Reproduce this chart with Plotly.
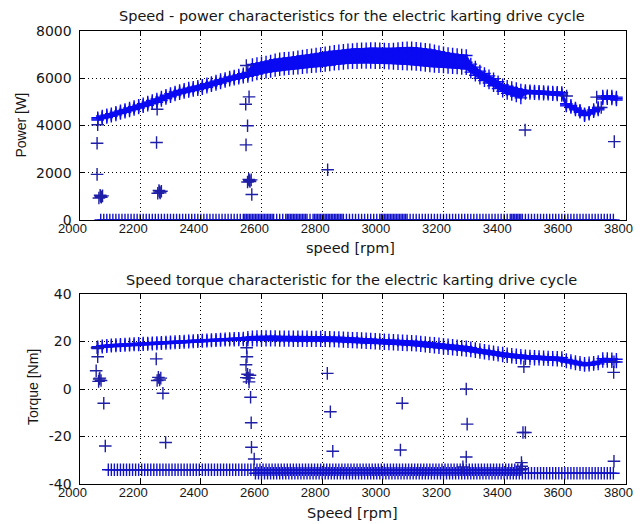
import plotly.graph_objects as go

# ---------------- data ----------------
band_speed = [
    2060, 2075, 2090, 2105, 2120, 2135, 2150, 2165, 2180, 2195,
    2210, 2225, 2240, 2255, 2270, 2285, 2300, 2315, 2330, 2345,
    2360, 2375, 2390, 2405, 2420, 2435, 2450, 2465, 2480, 2495,
    2510, 2525, 2540, 2555, 2570, 2585, 2600, 2615, 2630, 2645,
    2660, 2675, 2690, 2705, 2720, 2735, 2750, 2765, 2780, 2795,
    2810, 2825, 2840, 2855, 2870, 2885, 2900, 2915, 2930, 2945,
    2960, 2975, 2990, 3005, 3020, 3035, 3050, 3065, 3080, 3095,
    3110, 3125, 3140, 3155, 3170, 3185, 3200, 3215, 3230, 3245,
    3260, 3275, 3290, 3305, 3320, 3335, 3350, 3365, 3380, 3395,
    3410, 3425, 3440, 3455, 3470, 3485, 3500, 3515, 3530, 3545,
    3560, 3575, 3590, 3605, 3620, 3635, 3650, 3665, 3680, 3695,
    3710, 3725, 3740, 3755, 3770,
]

power_low = [
    4230, 4290, 4340, 4390, 4450, 4510, 4560, 4620, 4680, 4740,
    4800, 4860, 4920, 4980, 5060, 5140, 5220, 5290, 5350, 5400,
    5440, 5480, 5520, 5560, 5620, 5680, 5740, 5800, 5860, 5920,
    5960, 6000, 6040, 6080, 6130, 6180, 6230, 6260, 6290, 6330,
    6360, 6380, 6400, 6410, 6430, 6450, 6470, 6490, 6500, 6520,
    6540, 6560, 6590, 6610, 6630, 6650, 6660, 6660, 6670, 6670,
    6670, 6660, 6660, 6650, 6640, 6630, 6620, 6610, 6600, 6590,
    6580, 6560, 6540, 6520, 6500, 6490, 6480, 6460, 6450, 6440,
    6420, 6400, 6260, 6130, 6000, 5900, 5800, 5680, 5560, 5450,
    5360, 5310, 5250, 5170, 5360, 5360, 5350, 5340, 5330, 5320,
    5300, 5290, 5270, 4830, 4760, 4660, 4560, 4420, 4480, 4580,
    4660, 5120, 5130, 5120, 5080,
]
power_mid = [
    4280, 4345, 4395, 4445, 4505, 4565, 4620, 4680, 4740, 4800,
    4860, 4925, 4990, 5050, 5130, 5210, 5285, 5355, 5415, 5465,
    5510, 5550, 5590, 5630, 5690, 5750, 5810, 5870, 5925, 5985,
    6025, 6070, 6115, 6165, 6355, 6400, 6440, 6475, 6510, 6555,
    6590, 6610, 6630, 6645, 6670, 6695, 6720, 6740, 6760, 6785,
    6810, 6835, 6865, 6885, 6905, 6925, 6940, 6950, 6960, 6960,
    6965, 6960, 6955, 6945, 6935, 6935, 6940, 6945, 6945, 6940,
    6925, 6905, 6885, 6860, 6830, 6805, 6780, 6755, 6735, 6720,
    6700, 6680, 6430, 6300, 6150, 6050, 5950, 5830, 5705, 5585,
    5510, 5460, 5405, 5335, 5420, 5415, 5405, 5395, 5385, 5375,
    5360, 5350, 5335, 4875, 4805, 4700, 4600, 4460, 4520, 4625,
    4710, 5185, 5195, 5185, 5140,
]
power_high = [
    4330, 4400, 4450, 4500, 4560, 4620, 4680, 4740, 4800, 4860,
    4920, 4990, 5060, 5120, 5200, 5280, 5350, 5420, 5480, 5530,
    5580, 5620, 5660, 5700, 5760, 5820, 5880, 5940, 5990, 6050,
    6090, 6140, 6190, 6250, 6580, 6620, 6650, 6690, 6730, 6780,
    6820, 6840, 6860, 6880, 6910, 6940, 6970, 6990, 7020, 7050,
    7080, 7110, 7140, 7160, 7180, 7200, 7220, 7240, 7250, 7250,
    7260, 7260, 7250, 7240, 7230, 7240, 7260, 7280, 7290, 7290,
    7270, 7250, 7230, 7200, 7160, 7120, 7080, 7050, 7020, 7000,
    6980, 6960, 6600, 6470, 6300, 6200, 6100, 5980, 5850, 5720,
    5660, 5610, 5560, 5500, 5480, 5470, 5460, 5450, 5440, 5430,
    5420, 5410, 5400, 4920, 4850, 4740, 4640, 4500, 4560, 4670,
    4760, 5250, 5260, 5250, 5200,
]

torque_low = [
    17.0, 17.6, 17.8, 18.0, 18.1, 18.2, 18.3, 18.4, 18.5, 18.6,
    18.7, 18.8, 18.9, 19.0, 19.1, 19.2, 19.3, 19.4, 19.5, 19.6,
    19.7, 19.8, 19.9, 20.0, 20.1, 20.2, 20.3, 20.4, 20.5, 20.6,
    20.6, 20.7, 20.7, 20.7, 20.6, 20.6, 20.5, 20.5, 20.5, 20.5,
    20.4, 20.4, 20.4, 20.3, 20.3, 20.3, 20.3, 20.3, 20.3, 20.3,
    20.3, 20.2, 20.2, 20.1, 20.0, 19.9, 19.8, 19.7, 19.6, 19.5,
    19.4, 19.3, 19.2, 19.1, 19.0, 18.9, 18.8, 18.7, 18.6, 18.5,
    18.4, 18.2, 18.0, 17.8, 17.6, 17.4, 17.2, 17.0, 16.8, 16.6,
    16.4, 16.2, 16.0, 15.7, 15.4, 15.1, 14.8, 14.5, 14.2, 13.9,
    13.6, 13.4, 13.2, 13.0, 12.8, 12.7, 12.6, 12.5, 12.4, 12.3,
    12.2, 12.1, 12.0, 11.4, 11.0, 10.6, 10.2, 9.9, 10.0, 10.3,
    10.6, 11.6, 11.6, 11.5, 11.4,
]
torque_high = [
    17.8, 18.2, 18.4, 18.6, 18.7, 18.8, 18.9, 19.0, 19.1, 19.2,
    19.3, 19.4, 19.5, 19.6, 19.7, 19.8, 19.9, 20.0, 20.1, 20.2,
    20.3, 20.4, 20.5, 20.6, 20.7, 20.8, 20.9, 21.0, 21.1, 21.2,
    21.3, 21.4, 21.5, 21.8, 22.0, 22.1, 22.1, 22.1, 22.1, 22.1,
    22.0, 22.0, 22.0, 22.0, 22.0, 22.0, 22.0, 21.9, 21.9, 21.9,
    21.8, 21.8, 21.7, 21.7, 21.6, 21.5, 21.4, 21.3, 21.2, 21.1,
    21.0, 20.9, 20.8, 20.7, 20.6, 20.5, 20.4, 20.3, 20.2, 20.1,
    20.0, 19.8, 19.6, 19.4, 19.2, 19.0, 18.8, 18.6, 18.4, 18.2,
    18.0, 17.8, 17.4, 17.0, 16.6, 16.3, 16.0, 15.7, 15.4, 15.1,
    14.8, 14.6, 14.4, 14.2, 14.0, 13.9, 13.8, 13.7, 13.6, 13.5,
    13.4, 13.3, 13.2, 12.4, 12.0, 11.6, 11.2, 10.8, 11.0, 11.2,
    11.6, 12.8, 12.8, 12.7, 12.5,
]

# scattered transient points (power plot)
stray_power_speed = [
    2060, 2058, 2058, 2064, 2068, 2072, 2076, 2070,
    2256, 2254, 2258, 2262, 2266, 2270, 2264,
    2550, 2559, 2548, 2554, 2549, 2554, 2558, 2562, 2566, 2560, 2568,
    2818, 3469, 3763, 3606, 3705, 3720,
]
stray_power = [
    4030, 3250, 1930, 930, 1050, 960, 1020, 1000,
    4690, 3280, 1130, 1250, 1150, 1220, 1190,
    6540, 5210, 4900, 3990, 3180, 1610, 1720, 1630, 1700, 1670, 1080,
    2130, 3810, 3316, 5250, 5200, 4760,
]

# scattered transient points (torque plot)
stray_torque_speed = [
    2058, 2060, 2055, 2063, 2067, 2071, 2065, 2080, 2085,
    2253, 2256, 2260, 2264, 2268, 2275, 2284,
    2551, 2552, 2549, 2550, 2554, 2558, 2562, 2559, 2564, 2566, 2567, 2576,
    2817, 2827, 2835, 3064, 3058, 3275, 3278, 3275, 3264,
    3465, 3462, 3470, 3762, 3761, 3762, 3457, 3458, 3460,
]
stray_torque = [
    17.4, 13.6, 7.7, 3.2, 4.6, 3.6, 4.2, -6.0, -24.0,
    12.7, 3.6, 4.9, 3.8, 4.6, -1.8, -22.5,
    17.4, 13.6, 10.2, 4.8, 6.2, 4.6, 5.8, 3.0, -3.5, -14.2, -24.5, -29.5,
    6.6, -9.6, -26.2, -6.0, -25.7, 0.0, -14.8, -28.6, -32.8,
    9.4, -18.3, -18.3, 11.5, 7.0, -30.4, -31.0, -32.5, -33.6,
]

# zero-power samples (coasting / braking)
zero_speed = [
    2070, 2080, 2090, 2100, 2110, 2120, 2130, 2140, 2150, 2160,
    2170, 2180, 2190, 2200, 2210, 2220, 2230, 2240, 2250, 2260,
    2270, 2280, 2290, 2300, 2310, 2320, 2330, 2340, 2350, 2360,
    2370, 2380, 2390, 2400, 2410, 2420, 2430, 2440, 2450, 2460,
    2470, 2480, 2490, 2500, 2510, 2520, 2530, 2540, 2550, 2560,
    2570, 2580, 2590, 2600, 2610, 2620, 2630, 2640, 2650, 2660,
    2670, 2680, 2690, 2700, 2710, 2720, 2730, 2740, 2750, 2760,
    2770, 2780, 2790, 2800, 2810, 2820, 2830, 2840, 2850, 2860,
    2870, 2880, 2890, 2900, 2910, 2920, 2930, 2940, 2950, 2960,
    2970, 2980, 2990, 3000, 3010, 3020, 3030, 3040, 3050, 3060,
    3070, 3080, 3090, 3100, 3110, 3120, 3130, 3140, 3150, 3160,
    3170, 3180, 3190, 3200, 3210, 3220, 3230, 3240, 3250, 3260,
    3270, 3280, 3290, 3300, 3310, 3320, 3330, 3340, 3350, 3360,
    3370, 3380, 3390, 3400, 3410, 3420, 3430, 3440, 3450, 3460,
    3470, 3480, 3490, 3500, 3510, 3520, 3530, 3540, 3550, 3560,
    3570, 3580, 3590, 3600, 3610, 3620, 3630, 3640, 3650, 3660,
    3670, 3680, 3690, 3700, 3710, 3720, 3730, 3740, 3750, 3760,
    2545, 2555, 2565, 2575, 2585, 2595, 2605, 2615, 2625, 2635,
    2685, 2695, 2705, 2715, 2725, 2735, 2745, 2775, 2785, 2795,
    2805, 2815, 2825, 2835, 2845, 2855, 2865, 2995, 3005, 3015,
    3025, 3035, 3045, 3055, 3065, 3075, 3425, 3435, 3445, 3455,
]
zero_power = [
    0, 0, 0, 0, 0, 0, 0, 0, 0, 0,
    0, 0, 0, 0, 0, 0, 0, 0, 0, 0,
    0, 0, 0, 0, 0, 0, 0, 0, 0, 0,
    0, 0, 0, 0, 0, 0, 0, 0, 0, 0,
    0, 0, 0, 0, 0, 0, 0, 0, 0, 0,
    0, 0, 0, 0, 0, 0, 0, 0, 0, 0,
    0, 0, 0, 0, 0, 0, 0, 0, 0, 0,
    0, 0, 0, 0, 0, 0, 0, 0, 0, 0,
    0, 0, 0, 0, 0, 0, 0, 0, 0, 0,
    0, 0, 0, 0, 0, 0, 0, 0, 0, 0,
    0, 0, 0, 0, 0, 0, 0, 0, 0, 0,
    0, 0, 0, 0, 0, 0, 0, 0, 0, 0,
    0, 0, 0, 0, 0, 0, 0, 0, 0, 0,
    0, 0, 0, 0, 0, 0, 0, 0, 0, 0,
    0, 0, 0, 0, 0, 0, 0, 0, 0, 0,
    0, 0, 0, 0, 0, 0, 0, 0, 0, 0,
    0, 0, 0, 0, 0, 0, 0, 0, 0, 0,
    0, 0, 0, 0, 0, 0, 0, 0, 0, 0,
    0, 0, 0, 0, 0, 0, 0, 0, 0, 0,
    0, 0, 0, 0, 0, 0, 0, 0, 0, 0,
    0, 0, 0, 0, 0, 0, 0, 0, 0, 0,
]

# regenerative braking torque samples
regen_speed = [
    2095, 2105, 2115, 2125, 2135, 2145, 2155, 2165, 2175, 2185,
    2195, 2205, 2215, 2225, 2235, 2245, 2255, 2265, 2275, 2285,
    2295, 2305, 2315, 2325, 2335, 2345, 2355, 2365, 2375, 2385,
    2395, 2405, 2415, 2425, 2435, 2445, 2455, 2465, 2475, 2485,
    2495, 2505, 2515, 2525, 2535, 2545, 2555, 2565, 2575, 2585,
    2595, 2605, 2615, 2625, 2635, 2645, 2655, 2665, 2675, 2685,
    2695, 2705, 2715, 2725, 2735, 2745, 2755, 2765, 2775, 2785,
    2795, 2805, 2815, 2825, 2835, 2845, 2855, 2865, 2875, 2885,
    2895, 2905, 2915, 2925, 2935, 2945, 2955, 2965, 2975, 2985,
    2995, 3005, 3015, 3025, 3035, 3045, 3055, 3065, 3075, 3085,
    3095, 3105, 3115, 3125, 3135, 3145, 3155, 3165, 3175, 3185,
    3195, 3205, 3215, 3225, 3235, 3245, 3255, 3265, 3275, 3285,
    3295, 3305, 3315, 3325, 3335, 3345, 3355, 3365, 3375, 3385,
    3395, 3405, 3415, 3425, 3435, 3445, 3455,
    2580, 2590, 2600, 2610, 2620, 2630, 2640, 2650, 2660, 2670,
    2680, 2690, 2700, 2710, 2720, 2730, 2740, 2750, 2760, 2770,
    2780, 2790, 2800, 2810, 2820, 2830, 2840, 2850, 2860, 2870,
    2880, 2890, 2900, 2910, 2920, 2930, 2940, 2950, 2960, 2970,
    2980, 2990, 3000, 3010, 3020, 3030, 3040, 3050, 3060, 3070,
    3080, 3090, 3100, 3110, 3120, 3130, 3140, 3150, 3160, 3170,
    3180, 3190, 3200, 3210, 3220, 3230, 3240, 3250, 3260, 3270,
    3280, 3290, 3300, 3310, 3320, 3330, 3340, 3350, 3360, 3370,
    3380, 3390, 3400, 3410, 3420, 3430, 3440, 3450, 3460, 3470,
    3480, 3490, 3500, 3510, 3520, 3530, 3540, 3550, 3560, 3570,
    3580, 3590, 3600, 3610, 3620, 3630, 3640, 3650, 3660, 3670,
    3680, 3690, 3700, 3710, 3720, 3730, 3740, 3750, 3760,
]
regen_torque = [
    -34.0, -34.0, -34.0, -34.0, -34.0, -34.0, -34.0, -34.0, -34.0, -34.0,
    -34.0, -34.0, -34.0, -34.0, -34.0, -34.0, -34.0, -34.0, -34.0, -34.0,
    -34.0, -34.0, -34.0, -34.0, -34.0, -34.0, -34.0, -34.0, -34.0, -34.0,
    -34.0, -34.0, -34.0, -34.0, -34.0, -34.0, -34.0, -34.0, -34.0, -34.0,
    -34.0, -34.0, -34.0, -34.0, -34.0, -34.0, -34.0, -34.0, -34.0, -34.0,
    -34.0, -34.0, -34.0, -34.0, -34.0, -34.0, -34.0, -34.0, -34.0, -34.0,
    -34.0, -34.0, -34.0, -34.0, -34.0, -34.0, -34.0, -34.0, -34.0, -34.0,
    -34.0, -34.0, -34.0, -34.0, -34.0, -34.0, -34.0, -34.0, -34.0, -34.0,
    -34.0, -34.0, -34.0, -34.0, -34.0, -34.0, -34.0, -34.0, -34.0, -34.0,
    -34.0, -34.0, -34.0, -34.0, -34.0, -34.0, -34.0, -34.0, -34.0, -34.0,
    -34.0, -34.0, -34.0, -34.0, -34.0, -34.0, -34.0, -34.0, -34.0, -34.0,
    -34.0, -34.0, -34.0, -34.0, -34.0, -34.0, -34.0, -34.0, -34.0, -34.0,
    -34.0, -34.0, -34.0, -34.0, -34.0, -34.0, -34.0, -34.0, -34.0, -34.0,
    -34.0, -34.0, -34.0, -34.0, -34.0, -34.0, -34.0,
    -35.5, -35.5, -35.5, -35.5, -35.5, -35.5, -35.5, -35.5, -35.5, -35.5,
    -35.5, -35.5, -35.5, -35.5, -35.5, -35.5, -35.5, -35.5, -35.5, -35.5,
    -35.5, -35.5, -35.5, -35.5, -35.5, -35.5, -35.5, -35.5, -35.5, -35.5,
    -35.5, -35.5, -35.5, -35.5, -35.5, -35.5, -35.5, -35.5, -35.5, -35.5,
    -35.5, -35.5, -35.5, -35.5, -35.5, -35.5, -35.5, -35.5, -35.5, -35.5,
    -35.5, -35.5, -35.5, -35.5, -35.5, -35.5, -35.5, -35.5, -35.5, -35.5,
    -35.5, -35.5, -35.5, -35.5, -35.5, -35.5, -35.5, -35.5, -35.5, -35.5,
    -35.5, -35.5, -35.5, -35.5, -35.5, -35.5, -35.5, -35.5, -35.5, -35.5,
    -35.5, -35.5, -35.5, -35.5, -35.5, -35.5, -35.5, -35.5, -35.5, -35.5,
    -35.5, -35.5, -35.5, -35.5, -35.5, -35.5, -35.5, -35.5, -35.5, -35.5,
    -35.5, -35.5, -35.5, -35.5, -35.5, -35.5, -35.5, -35.5, -35.5, -35.5,
    -35.5, -35.5, -35.5, -35.5, -35.5, -35.5, -35.5, -35.5, -35.5,
]

speed_ticks = [2000, 2200, 2400, 2600, 2800, 3000, 3200, 3400, 3600, 3800]
power_ticks = [0, 2000, 4000, 6000, 8000]
torque_ticks = [-40, -20, 0, 20, 40]

title_top = "Speed - power characteristics for the electric karting drive cycle"
title_bottom = "Speed torque characteristic for the electric karting drive cycle"

# ---------------- figure ----------------
OFF = 8                      # the page body margin the figure sits inside
W, H = 644 - OFF, 524 - OFF
WIDE = "DejaVu Sans, Verdana, sans-serif"
NARROW = "Liberation Sans, Arial, sans-serif"
INK = "#161616"
BAND = "#0a0af2"
STRAY = "#1e1ea6"
ROW = "#1212c8"


def marker(color):
    return dict(symbol="cross-thin-open", size=9,
                line=dict(color=color, width=1.4), color=color)


def envelope(xs, lo, hi, xa, ya):
    # solid body of a dense point cloud, outlined by its low/high samples
    return go.Scatter(x=xs + xs[::-1], y=hi + lo[::-1], mode="lines",
                      fill="toself", fillcolor=BAND,
                      line=dict(color=BAND, width=2), hoverinfo="skip",
                      xaxis=xa, yaxis=ya)


fig = go.Figure()

split = band_speed.index(3725)
fig.add_trace(envelope(band_speed[:split], power_low[:split], power_high[:split], "x", "y"))
fig.add_trace(envelope(band_speed[split:], power_low[split:], power_high[split:], "x", "y"))
fig.add_trace(go.Scatter(x=zero_speed, y=zero_power, mode="markers",
                         marker=marker(ROW), xaxis="x", yaxis="y"))
fig.add_trace(go.Scatter(x=band_speed + band_speed + band_speed,
                         y=power_low + power_mid + power_high,
                         mode="markers", marker=marker(BAND), xaxis="x", yaxis="y"))
fig.add_trace(go.Scatter(x=stray_power_speed, y=stray_power, mode="markers",
                         marker=marker(STRAY), xaxis="x", yaxis="y"))

fig.add_trace(envelope(band_speed, torque_low, torque_high, "x2", "y2"))
fig.add_trace(go.Scatter(x=regen_speed, y=regen_torque, mode="markers",
                         marker=marker(ROW), xaxis="x2", yaxis="y2"))
fig.add_trace(go.Scatter(x=band_speed + band_speed, y=torque_low + torque_high,
                         mode="markers", marker=marker(BAND), xaxis="x2", yaxis="y2"))
fig.add_trace(go.Scatter(x=stray_torque_speed, y=stray_torque, mode="markers",
                         marker=marker(STRAY), xaxis="x2", yaxis="y2"))

# plot-area rectangles in page pixels (left, right, top, bottom)
L, R = 79.5, 625.5
T1, B1 = 31, 220
T2, B2 = 294, 484


def px_x(p):
    return (p - OFF) / W


def px_y(p):
    return 1 - (p - OFF) / H


common_axis = dict(
    automargin=False,
    showline=True, linecolor="black", linewidth=1, mirror="ticks",
    ticks="inside", ticklen=5, tickcolor="black", tickwidth=1,
    showgrid=True, gridcolor="black", gridwidth=1, griddash="1px,3px",
    zeroline=False,
)
x_axis = dict(common_axis, range=[2000, 3800], tickvals=speed_ticks,
              ticktext=[str(v) for v in speed_ticks], ticklabelshift=-7,
              ticklabelstandoff=-4, tickfont=dict(family=NARROW, size=13, color=INK))
y_font = dict(family=WIDE, size=14, color=INK)

fig.update_layout(
    width=W, height=H, autosize=False,
    margin=dict(l=0, r=0, t=0, b=0, pad=0, autoexpand=False),
    paper_bgcolor="white", plot_bgcolor="white",
    showlegend=False,
    xaxis=dict(x_axis, domain=[px_x(L), px_x(R)], anchor="y"),
    yaxis=dict(common_axis, domain=[px_y(B1), px_y(T1)], anchor="x", range=[0, 8000],
               tickvals=power_ticks, ticktext=[str(v) for v in power_ticks],
               ticklabelstandoff=4, tickfont=y_font),
    xaxis2=dict(x_axis, domain=[px_x(L), px_x(R)], anchor="y2"),
    yaxis2=dict(common_axis, domain=[px_y(B2), px_y(T2)], anchor="x2", range=[-40, 40],
                tickvals=torque_ticks, ticktext=[str(v) for v in torque_ticks],
                ticklabelstandoff=4, tickfont=y_font),
)

annots = [
    (title_top, 352, 16, 0, WIDE, 14.5),
    ("speed [rpm]", 350, 248, 0, WIDE, 14.5),
    ("Power [W]", 21, 125.5, -90, NARROW, 14),
    (title_bottom, 351, 280, 0, WIDE, 14.5),
    ("Speed [rpm]", 352, 513, 0, WIDE, 14.5),
    ("Torque [Nm]", 33, 387, -90, NARROW, 14),
]
for text, x, y, ang, fam, size in annots:
    fig.add_annotation(text=text, x=px_x(x), y=px_y(y), xref="paper", yref="paper",
                       xanchor="center", yanchor="middle", showarrow=False,
                       textangle=ang, font=dict(family=fam, size=size, color=INK))

fig.write_html("out.html")
